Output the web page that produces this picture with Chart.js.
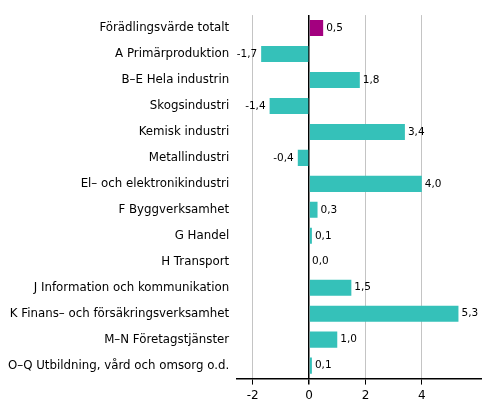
<!DOCTYPE html>
<html>
<head>
<meta charset="utf-8">
<script src="https://cdn.jsdelivr.net/npm/chart.js@4"></script>
<style>
  html, body { margin: 0; padding: 0; background: #fff; }
  #wrap { width: 491px; height: 416px; }
</style>
</head>
<body>
<div id="wrap"><canvas id="barChart"></canvas></div>
<script>
const categories = [
  "Förädlingsvärde totalt",
  "A Primärproduktion",
  "B–E Hela industrin",
  "Skogsindustri",
  "Kemisk industri",
  "Metallindustri",
  "El– och elektronikindustri",
  "F Byggverksamhet",
  "G Handel",
  "H Transport",
  "J Information och kommunikation",
  "K Finans– och försäkringsverksamhet",
  "M–N Företagstjänster",
  "O–Q Utbildning, vård och omsorg o.d."
];
const values = [0.5, -1.7, 1.8, -1.4, 3.4, -0.4, 4.0, 0.3, 0.1, 0.0, 1.5, 5.3, 1.0, 0.1];
const xTicks = [-2, 0, 2, 4];

const FONT = "'DejaVu Sans', Verdana, sans-serif";

// value labels next to bar ends, decimal comma
const valueLabels = {
  id: "valueLabels",
  afterDatasetsDraw(chart) {
    const ctx = chart.ctx;
    const meta = chart.getDatasetMeta(0);
    ctx.save();
    ctx.font = "10.5px " + FONT;
    ctx.fillStyle = "#000";
    ctx.textBaseline = "middle";
    meta.data.forEach((bar, i) => {
      const v = values[i];
      const txt = v.toFixed(1).replace(".", ",");
      if (v < 0) {
        ctx.textAlign = "right";
        ctx.fillText(txt, bar.x - 4, bar.y);
      } else {
        ctx.textAlign = "left";
        ctx.fillText(txt, bar.x + 3, bar.y);
      }
    });
    ctx.restore();
  }
};

new Chart(document.getElementById("barChart").getContext("2d"), {
  type: "bar",
  data: {
    labels: categories,
    datasets: [{
      data: values,
      backgroundColor: values.map((_, i) => i === 0 ? "#a3007f" : "#35c1b9"),
      barPercentage: 0.62,
      categoryPercentage: 1.0,
      borderWidth: 0
    }]
  },
  options: {
    indexAxis: "y",
    responsive: true,
    maintainAspectRatio: false,
    animation: false,
    layout: { padding: { top: 10, right: 10, left: 0, bottom: 9 } },
    plugins: {
      legend: { display: false },
      tooltip: { enabled: false }
    },
    scales: {
      x: {
        min: -2.55,
        max: 6.1,
        afterBuildTicks: (scale) => { scale.ticks = xTicks.map(v => ({ value: v })); },
        grid: {
          color: (c) => c.tick && c.tick.value === 0 ? "#000" : "#c4c4c4",
          lineWidth: (c) => c.tick && c.tick.value === 0 ? 1.5 : 1,
          tickColor: "#000",
          tickLength: 6,
          drawOnChartArea: true
        },
        border: { display: true, color: "#000", width: 1.5 },
        ticks: {
          color: "#000",
          font: { family: FONT, size: 12 },
          padding: 4,
          callback: (v) => String(v)
        }
      },
      y: {
        grid: { display: false, drawTicks: false },
        border: { display: false },
        ticks: {
          color: "#000",
          font: { family: FONT, size: 11.8 },
          padding: 8,
          autoSkip: false
        }
      }
    }
  },
  plugins: [valueLabels]
});
</script>
</body>
</html>
